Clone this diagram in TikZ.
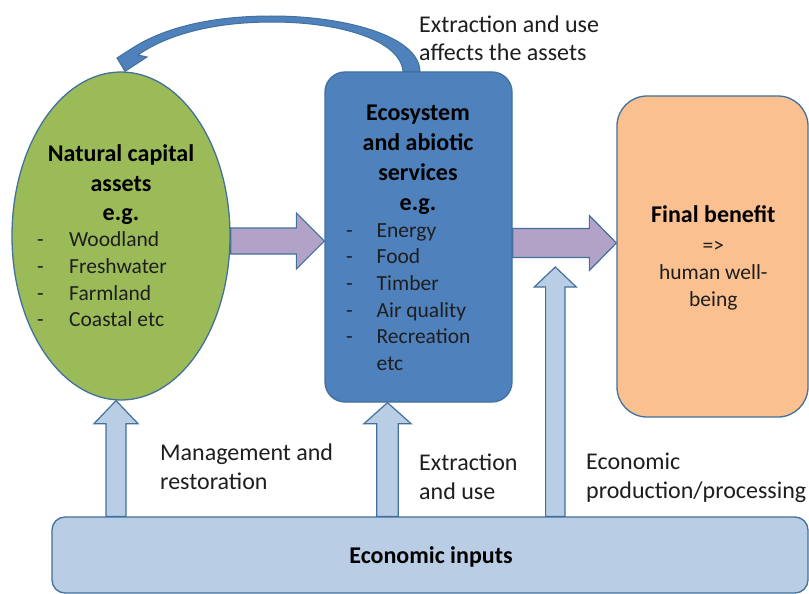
\documentclass[tikz,border=0pt]{standalone}
\usepackage{fontspec}
\setmainfont{Carlito}
\usetikzlibrary{shapes.geometric,calc}
\definecolor{bordc}{HTML}{41719C}
\definecolor{natgreen}{HTML}{9BBB59}
\definecolor{ecoblue}{HTML}{4F81BD}
\definecolor{finorange}{HTML}{FAC090}
\definecolor{inpblue}{HTML}{B9CDE5}
\definecolor{flowpurple}{HTML}{B3A2C7}
\definecolor{txtc}{HTML}{1E1E1E}
\newcommand{\blockR}[6]{%
  \path[#1] let \p1=(#2), \p2=(#3) in
    (\x1,\y2+#4) -- (\x2-#6,\y2+#4) -- (\x2-#6,\y2+#5) -- (\x2,\y2)
    -- (\x2-#6,\y2-#5) -- (\x2-#6,\y2-#4) -- (\x1,\y2-#4) -- cycle;}
\newcommand{\blockU}[6]{%
  \path[#1] let \p1=(#2), \p2=(#3) in
    (\x2-#4,\y1) -- (\x2-#4,\y2-#6) -- (\x2-#5,\y2-#6) -- (\x2,\y2)
    -- (\x2+#5,\y2-#6) -- (\x2+#4,\y2-#6) -- (\x2+#4,\y1) -- cycle;}
\begin{document}
\begin{tikzpicture}[x=1pt,y=-1pt,
  shapebox/.style={draw=bordc, line width=1.3pt, inner sep=0pt},
  flowarrow/.style={draw=bordc, line width=1.2pt, fill=flowpurple, line join=miter},
  inarrow/.style={draw=bordc, line width=1.2pt, fill=inpblue, line join=miter},
  titletext/.style={inner sep=0pt, align=center, anchor=north, text=black,
    font=\fontsize{24}{29.8}\selectfont\bfseries},
  listtext/.style={inner sep=0pt, align=left, anchor=north west, text=txtc,
    font=\fontsize{21.5}{26.6}\selectfont},
  labeltext/.style={inner sep=0pt, align=left, anchor=north west, text=txtc,
    font=\fontsize{24}{28.8}\selectfont}
]
\useasboundingbox (0,0) rectangle (809,594);
\fill[white] (0,0) rectangle (809,594);

% main shapes
\node[shapebox, ellipse, fill=natgreen, minimum width=218pt, minimum height=328pt] (nca) at (121,236) {};
\node[shapebox, rectangle, rounded corners=20pt, fill=ecoblue, minimum width=187pt, minimum height=330pt] (eco) at (418.5,237) {};
\node[shapebox, rectangle, rounded corners=30pt, fill=finorange, minimum width=191pt, minimum height=321pt] (fin) at (712.5,256.5) {};
\node[shapebox, rectangle, rounded corners=13pt, fill=inpblue, minimum width=756pt, minimum height=76pt] (inp) at (430,555) {};

% curved arrow: extraction affects the assets
\coordinate (cbo) at ([xshift=1.5pt]eco.north);
\coordinate (cbi) at ([xshift=-15.5pt]eco.north);
\coordinate (ctip) at ([xshift=4pt]nca.north);
\path[draw=bordc, line width=1pt, fill=ecoblue, line join=miter]
  (cbo) .. controls (419,36) and (345,16) .. (272,16)
  .. controls (205,16) and (160,30) .. (131,49)
  -- (117,58) -- (ctip) -- (147,57) -- (138,55)
  .. controls (165,36) and (210,22) .. (272,22)
  .. controls (340,22) and (400,40) .. (cbi) -- cycle;

% horizontal flow arrows
\coordinate (p1tip) at ([yshift=-4pt]eco.west);
\coordinate (p2tip) at ([yshift=13.5pt]fin.west);
\blockR{flowarrow}{nca.east}{p1tip}{13pt}{28pt}{28pt}
\blockR{flowarrow}{eco.east}{p2tip}{14.5pt}{27.5pt}{27pt}

% upward input arrows
\coordinate (u1tip) at ([xshift=-5pt]nca.south);
\coordinate (u2tip) at ([xshift=-31pt]eco.south);
\coordinate (u3tip) at (555.3,267);
\blockU{inarrow}{inp.north}{u1tip}{10pt}{22pt}{23pt}
\blockU{inarrow}{inp.north}{u2tip}{10.8pt}{23.5pt}{21pt}
\blockU{inarrow}{inp.north}{u3tip}{9.7pt}{21pt}{20pt}

% texts
\node[titletext, font=\fontsize{24}{29.2}\selectfont\bfseries] (ncat) at (121,141.2) {\strut Natural capital\\assets\\e.g.};
\node[listtext] (ncal) at (37,228.1) {\strut\makebox[32pt][l]{-}Woodland\\\makebox[32pt][l]{-}Freshwater\\\makebox[32pt][l]{-}Farmland\\\makebox[32pt][l]{-}Coastal etc};

\node[titletext] (ecot) at (418,99.8) {\strut Ecosystem\\and abiotic\\services\\e.g.};
\node[listtext] (ecol) at (346,218.4) {\strut\makebox[30.5pt][l]{-}Energy\\\makebox[30.5pt][l]{-}Food\\\makebox[30.5pt][l]{-}Timber\\\makebox[30.5pt][l]{-}Air quality\\\makebox[30.5pt][l]{-}Recreation\\\makebox[30.5pt][l]{}etc};

\node[inner sep=0pt, anchor=base, font=\fontsize{24}{29}\selectfont\bfseries] (fint) at (713.3,222.7) {Final benefit};
\node[listtext, anchor=north, align=center, font=\fontsize{21.5}{26.7}\selectfont] (finl) at (713.3,234) {\strut =>\\human well-\\being};

\node[labeltext, font=\fontsize{24}{28.3}\selectfont] (lbtop) at (419,12) {\strut Extraction and use\\affects the assets};
\node[labeltext, font=\fontsize{24}{29}\selectfont] (lbman) at (160,439.7) {\strut Management and\\restoration};
\node[labeltext, font=\fontsize{24}{28.6}\selectfont] (lbext) at (419,450.5) {\strut Extraction\\and use};
\node[labeltext, font=\fontsize{24}{29}\selectfont] (lbeco) at (586,448.7) {\strut Economic\\production/processing};

\node[inner sep=0pt, anchor=base, font=\fontsize{24}{29}\selectfont\bfseries] (inpt) at (431,563) {Economic inputs};
\end{tikzpicture}
\end{document}
